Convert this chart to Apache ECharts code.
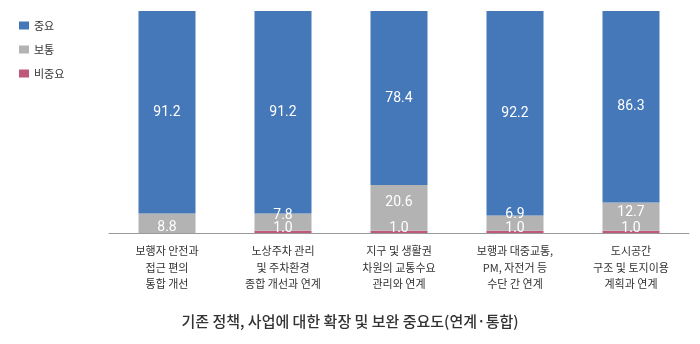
<!DOCTYPE html>
<html>
<head>
<meta charset="utf-8">
<script src="https://cdn.jsdelivr.net/npm/echarts@6/dist/echarts.min.js"></script>
<style>html,body{margin:0;padding:0;background:#fff;}#c{width:700px;height:344px;}</style>
</head>
<body>
<div id="c"></div>
<script>
const categories = [
  '보행자 안전과\n접근 편의\n통합 개선',
  '노상주차 관리\n및 주차환경\n종합 개선과 연계',
  '지구 및 생활권\n차원의 교통수요\n관리와 연계',
  '보행과 대중교통,\nPM, 자전거 등\n수단 간 연계',
  '도시공간\n구조 및 토지이용\n계획과 연계'
];
const important = [91.2, 91.2, 78.4, 92.2, 86.3];
const normal = [8.8, 7.8, 20.6, 6.9, 12.7];
const notImportant = [0, 1.0, 1.0, 1.0, 1.0];
const seriesNames = ['중요', '보통', '비중요'];
const titleText = '기존 정책, 사업에 대한 확장 및 보완 중요도(연계·통합)';

// label styling offsets (vertical, px) for the 보통 labels
const normalLabelOffsets = [4, -7, -5, -9, -4];

const FONT = '"Noto Sans CJK KR", "Noto Sans", sans-serif';
const NUMFONT = 'Roboto, "Noto Sans", sans-serif';

const chart = echarts.init(document.getElementById('c'));
chart.setOption({
  animation: false,
  title: {
    text: titleText,
    left: 'center',
    top: 309,
    textStyle: { fontFamily: FONT, fontSize: 15, fontWeight: 500, color: '#333' }
  },
  legend: {
    data: seriesNames,
    orient: 'vertical',
    left: 14,
    top: 15,
    itemWidth: 10,
    itemHeight: 8,
    itemGap: 13,
    icon: 'rect',
    textStyle: { fontFamily: FONT, fontSize: 11, color: '#333' }
  },
  grid: { left: 109, right: 11, top: 11, bottom: 111, containLabel: false },
  xAxis: {
    type: 'category',
    data: categories,
    axisTick: { show: false },
    axisLine: { lineStyle: { color: '#999', width: 1 } },
    axisLabel: { fontFamily: FONT, fontSize: 11, color: '#333', lineHeight: 16.5, margin: 10, interval: 0 }
  },
  yAxis: { type: 'value', min: 0, max: 100, show: false, splitLine: { show: false } },
  series: [
    {
      name: '비중요', type: 'bar', stack: 's', barWidth: 57,
      itemStyle: { color: '#C0587B' },
      data: notImportant,
      label: {
        show: true, position: 'top', distance: -5, color: '#fff',
        fontFamily: NUMFONT, fontSize: 14,
        formatter: p => p.value > 0 ? p.value.toFixed(1) : ''
      }
    },
    {
      name: '보통', type: 'bar', stack: 's', barWidth: 57,
      itemStyle: { color: '#B3B3B3' },
      data: normal.map((v, i) => ({ value: v, label: { offset: [0, normalLabelOffsets[i]] } })),
      label: {
        show: true, position: 'inside', color: '#fff',
        fontFamily: NUMFONT, fontSize: 14,
        formatter: p => p.value.toFixed(1)
      }
    },
    {
      name: '중요', type: 'bar', stack: 's', barWidth: 57,
      itemStyle: { color: '#4578B8' },
      data: important,
      label: {
        show: true, position: 'inside', color: '#fff',
        fontFamily: NUMFONT, fontSize: 14,
        formatter: p => p.value.toFixed(1)
      }
    }
  ]
});
</script>
</body>
</html>
